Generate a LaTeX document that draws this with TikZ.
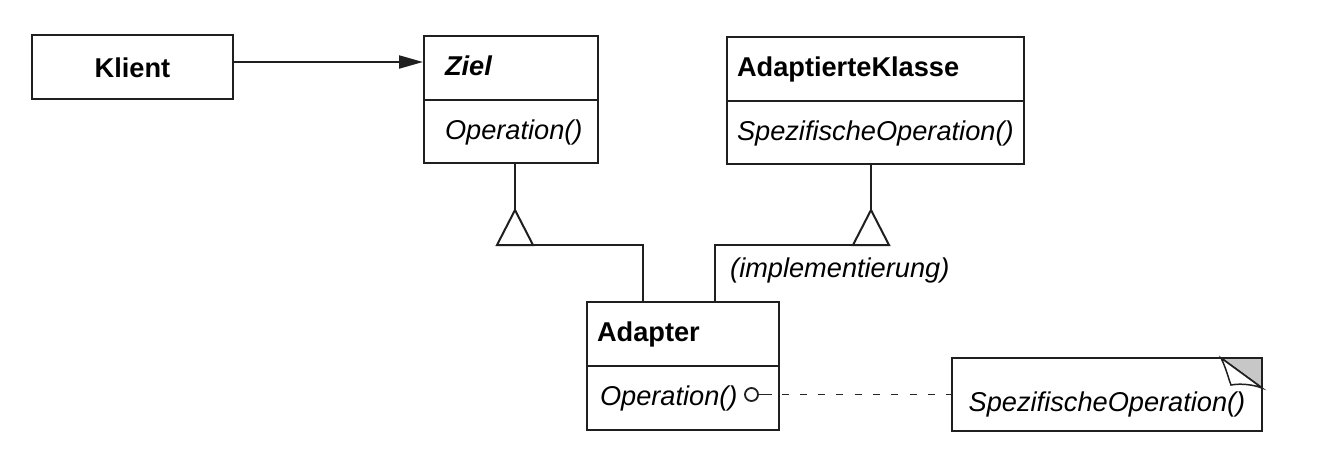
\documentclass[tikz,border=0pt]{standalone}
\usepackage{fontspec}
\setmainfont{Liberation Sans}
\usetikzlibrary{arrows.meta}
\tikzset{
  ln/.style={line width=2pt, draw=black!88},
  umlbox/.style={ln, rectangle, anchor=north west, inner xsep=10pt, inner ysep=0pt, outer sep=0pt,
    text height=17pt, text depth=2pt, align=left,
    font=\fontsize{27.2}{32}\selectfont},
  lbl/.style={font=\fontsize{27.2}{32}\selectfont\itshape, inner sep=0pt, anchor=base west},
  inherit/.style={ln, fill=white, line join=miter},
}
\begin{document}
\begin{tikzpicture}[x=1pt,y=-1pt]
\fill[white] (0,0) rectangle (1334,464);
\useasboundingbox (0,0) rectangle (1334,464);

% Klient
\node[umlbox, align=center, text width=181pt, minimum width=201pt, minimum height=64pt,
      text height=20pt, text depth=0pt, font=\fontsize{27.2}{32}\selectfont\bfseries]
      (klient) at (32,35) {Klient};

% Ziel
\node[umlbox, inner xsep=21pt, text width=132pt, minimum width=174pt, minimum height=64pt,
      font=\fontsize{27.2}{32}\selectfont\bfseries\itshape] (zielh) at (424,36) {\mbox{Ziel}};
\node[umlbox, inner xsep=21pt, text width=132pt, minimum width=174pt, minimum height=63pt,
      font=\fontsize{27.2}{32}\selectfont\itshape] (zielb) at (zielh.south west) {\mbox{Operation()}};

% AdaptierteKlasse
\node[umlbox, text width=277pt, minimum width=297pt, minimum height=64pt,
      font=\fontsize{27.2}{32}\selectfont\bfseries] (akh) at (727,37) {\mbox{AdaptierteKlasse}};
\node[umlbox, text width=277pt, minimum width=297pt, minimum height=63pt,
      font=\fontsize{27.2}{32}\selectfont\itshape] (akb) at (akh.south west) {\mbox{SpezifischeOperation()}};

% Adapter
\node[umlbox, text width=172pt, minimum width=192pt, minimum height=64pt,
      font=\fontsize{27.2}{32}\selectfont\bfseries] (adh) at (587,302) {\mbox{Adapter}};
\node[umlbox, minimum width=192pt, minimum height=64pt,
      inner xsep=13pt, text width=166pt,
      font=\fontsize{27.2}{32}\selectfont\itshape] (adb) at (adh.south west) {\mbox{Operation()}};

% note with dog-ear
\fill[black!22] (1221,358) -- (1262,358) -- (1262,388) -- cycle;
\node[umlbox, align=center, inner xsep=10pt, text width=290pt, minimum width=310pt, minimum height=73pt,
      text height=36pt, text depth=2pt,
      font=\fontsize{27.2}{32}\selectfont\itshape] (note) at (952,358) {\mbox{SpezifischeOperation()}};
\draw[line width=1.8pt, draw=black!88] (1221,358) -- (1262,388);
\draw[line width=1.5pt, draw=black!88, fill=white]
  (1221,358) .. controls (1226,368) and (1228,377) .. (1231,385)
  .. controls (1242,383) and (1254,385) .. (1262,388) -- cycle;

% Klient -> Ziel
\draw[ln, -{Triangle[length=24pt,width=13pt]}]
  ([yshift=5pt]klient.east) -- ([yshift=5pt,xshift=-1pt]klient.east -| zielh.west);

% inheritance triangles
\coordinate (t1apex) at (515,210);
\coordinate (t1r) at (533,245);
\coordinate (t2apex) at (871,210);
\coordinate (t2l) at (853,245);
\draw[ln] (t1apex |- zielb.south) -- (t1apex);
\draw[ln] (t2apex |- akb.south) -- (t2apex);
\draw[inherit] (t1apex) -- ++(18,35) -- ++(-36,0) -- cycle;
\draw[inherit] (t2apex) -- ++(18,35) -- ++(-36,0) -- cycle;
\draw[ln] ([xshift=-40pt]adh.north) |- (t1r);
\draw[ln] ([xshift=32pt]adh.north) |- (t2l);

\node[lbl] (impl) at (730,277) {(implementierung)};

% lollipop and dashed link to note
\node[circle, draw=black!88, line width=1.8pt, minimum size=13pt, inner sep=0pt]
  (lolli) at (751.5,394.5) {};
\coordinate (stubend) at (772,394.5);
\coordinate (dstart) at (781.5,394.5);
\draw[line width=1.8pt, draw=black!85] (lolli.east) -- (stubend);
\draw[line width=1.8pt, draw=black!85, dash pattern=on 7pt off 11.3pt] (dstart) -- (note.west);
\end{tikzpicture}
\end{document}
